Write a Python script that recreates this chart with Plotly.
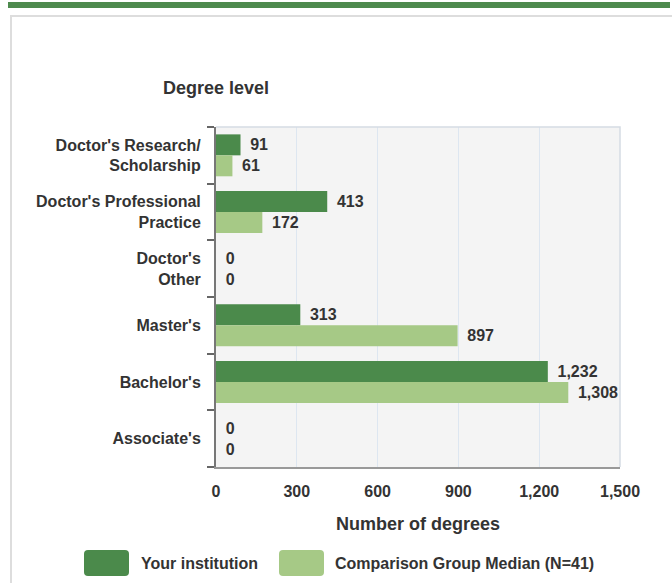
import plotly.graph_objects as go

categories = ["Doctor's Research/<br>Scholarship", "Doctor's Professional<br>Practice",
              "Doctor's<br>Other", "Master's", "Bachelor's", "Associate's"]
your_institution = [91, 413, 0, 313, 1232, 0]
comparison_median = [61, 172, 0, 897, 1308, 0]
series_names = ["Your institution", "Comparison Group Median (N=41)"]
x_ticks = [0, 300, 600, 900, 1200, 1500]
x_tick_labels = ["0", "300", "600", "900", "1,200", "1,500"]

DARK = "#4b8a4b"
LIGHT = "#a6c986"
FONT = "Liberation Sans, Arial, sans-serif"
TXT = "#333333"

W, H = 672, 583
ML, MR, MT, MB = 216, 52, 127, 116
PW, PH = W - ML - MR, H - MT - MB


def px(x):
    return (x - ML) / PW


def py(y):
    return (H - MB - y) / PH


def rounded_rect(x0, y0, x1, y1, r):
    X = lambda v: f"{px(v):.5f}"
    Y = lambda v: f"{py(v):.5f}"
    return (f"M {X(x0 + r)},{Y(y0)} L {X(x1 - r)},{Y(y0)} Q {X(x1)},{Y(y0)} {X(x1)},{Y(y0 + r)} "
            f"L {X(x1)},{Y(y1 - r)} Q {X(x1)},{Y(y1)} {X(x1 - r)},{Y(y1)} "
            f"L {X(x0 + r)},{Y(y1)} Q {X(x0)},{Y(y1)} {X(x0)},{Y(y1 - r)} "
            f"L {X(x0)},{Y(y0 + r)} Q {X(x0)},{Y(y0)} {X(x0 + r)},{Y(y0)} Z")


fig = go.Figure()
for name, vals, col in [(series_names[0], your_institution, DARK),
                        (series_names[1], comparison_median, LIGHT)]:
    fig.add_trace(go.Bar(
        y=categories, x=vals, orientation="h", name=name,
        marker=dict(color=col, line=dict(width=0)),
        texttemplate="<span style='font-size:12px'>\u00a0\u00a0</span><b>%{x:,}</b>",
        textposition="outside",
        textfont=dict(family=FONT, size=16, color=TXT),
        cliponaxis=False, showlegend=False,
    ))

shapes = [
    dict(type="rect", xref="paper", yref="paper", x0=px(8), x1=px(670), y0=py(8), y1=py(2),
         fillcolor="#4e8a4e", line=dict(width=0), layer="above"),
    dict(type="path", xref="paper", yref="paper",
         path=f"M {px(11)},{py(583)} L {px(11)},{py(16)} L {px(672)},{py(16)}",
         line=dict(color="#dddddd", width=2)),
]
annotations = [
    dict(text="<b>Degree level</b>", xref="paper", yref="paper", x=px(216), y=py(88),
         xanchor="center", yanchor="middle", showarrow=False,
         font=dict(family=FONT, size=18, color=TXT)),
]
leg = [(84, 129, 139, series_names[0], DARK), (279, 324, 333, series_names[1], LIGHT)]
for x0, x1, tx, name, col in leg:
    shapes.append(dict(type="path", xref="paper", yref="paper",
                       path=rounded_rect(x0, 550, x1, 576, 4),
                       fillcolor=col, line=dict(width=0)))
    annotations.append(dict(text=f"<b>{name}</b>", xref="paper", yref="paper", x=px(tx), y=py(563),
                            xanchor="left", yanchor="middle", showarrow=False,
                            font=dict(family=FONT, size=16, color=TXT)))

fig.update_layout(
    width=W, height=H, margin=dict(l=ML, r=MR, t=MT, b=MB, autoexpand=False),
    paper_bgcolor="white", plot_bgcolor="#f4f4f4",
    barmode="group", bargap=0.26, bargroupgap=0.0,
    font=dict(family=FONT, size=16, color=TXT),
    shapes=shapes, annotations=annotations,
    xaxis=dict(range=[0, 1500], tickvals=x_ticks, ticktext=[f"<b>{t}</b>" for t in x_tick_labels],
               showgrid=True, gridcolor="#dde6f0", gridwidth=1, zeroline=False,
               showline=True, linecolor="#999999", linewidth=2, mirror=False,
               ticks="", tickfont=dict(size=16, color=TXT), ticklabelstandoff=9,
               title=dict(text="<b>Number of degrees</b>", font=dict(size=18, color=TXT), standoff=18)),
    yaxis=dict(autorange="reversed", type="category", tickson="boundaries",
               ticks="outside", ticklen=7, tickcolor="#666666", tickwidth=2,
               showline=True, linecolor="#777777", linewidth=2,
               showgrid=False, tickfont=dict(size=16, color=TXT),
               ticktext=[f"<b>{c}</b>" for c in categories], tickvals=categories,
               ticklabelstandoff=10),
)
fig.add_shape(type="path", xref="paper", yref="paper", path="M 0,1 L 1,1 L 1,0",
              line=dict(color="#d5dbe3", width=1.5))

fig.write_html("out.html", config={"displayModeBar": False},
               post_script="document.body.style.margin='0';document.body.style.padding='0';")
